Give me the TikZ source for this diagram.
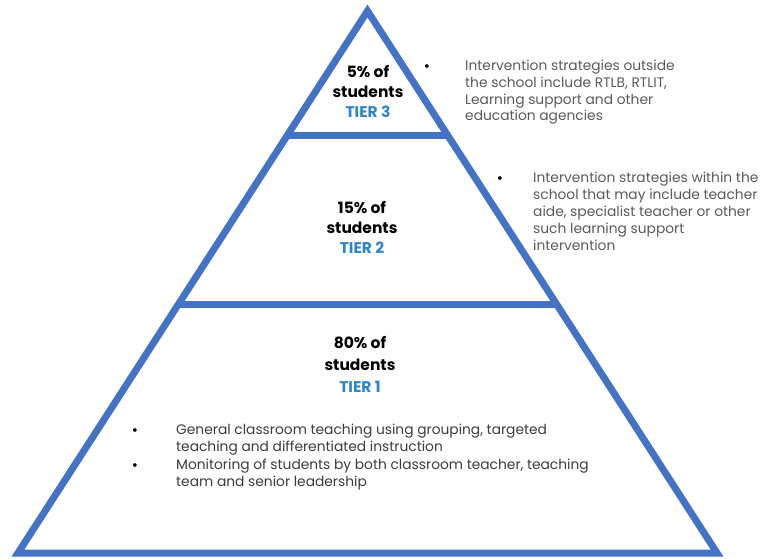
\documentclass[tikz,border=0pt]{standalone}
\usepackage{fontspec}
\setmainfont{Poppins}
\usetikzlibrary{calc}
\definecolor{pyrblue}{HTML}{4472C4}
\definecolor{tierblue}{HTML}{2E86C8}
\definecolor{graytxt}{HTML}{5A5A5A}
\definecolor{darktxt}{HTML}{3C3C3C}
\tikzset{
  edge/.style={draw=pyrblue, line width=7bp, line join=miter},
  divider/.style={draw=pyrblue, line width=7bp},
  tierlabel/.style={align=center, inner sep=0pt, font=\fontsize{15.5bp}{20bp}\selectfont\bfseries},
  bodytext/.style={align=left, anchor=base west, inner sep=0pt, text=graytxt, font=\fontsize{13.8bp}{17bp}\selectfont},
  bullettext/.style={anchor=base, inner sep=0pt, font=\fontsize{15bp}{17bp}\selectfont},
}
\begin{document}
\begin{tikzpicture}[x=1bp, y=-1bp]
\useasboundingbox (0,0) rectangle (778,559);
\coordinate (A) at (367.5,11);
\coordinate (L) at (18,553);
\coordinate (R) at (717,553);
\draw[edge] (A) -- (L) -- (R) -- cycle;
\coordinate (d3l) at ($(A)!0.2306!(L)$);
\coordinate (d3r) at ($(A)!0.2306!(R)$);
\coordinate (d2l) at ($(A)!0.5424!(L)$);
\coordinate (d2r) at ($(A)!0.5424!(R)$);
\draw[divider] (d3l) -- (d3r);
\draw[divider] (d2l) -- (d2r);

\node[tierlabel] (tier3) at (368,91) {5\% of\\students\\{\color{tierblue}TIER 3}};
\node[tierlabel] (tier2) at (362,227) {15\% of\\students\\{\color{tierblue}TIER 2}};
\node[tierlabel, font=\fontsize{15.5bp}{22bp}\selectfont\bfseries] (tier1) at (360,364) {80\% of\\students\\{\color{tierblue}TIER 1}};

\node[bullettext] (b3) at (427,72) {•};
\node[bodytext, font=\fontsize{13.8bp}{16.7bp}\selectfont] (p3) at (465,121) {Intervention strategies outside\\the school include RTLB, RTLIT,\\Learning support and other\\education agencies};

\node[bullettext] (b2) at (500,184) {•};
\node[bodytext] (p2) at (533,251) {Intervention strategies within the\\school that may include teacher\\aide, specialist teacher or other\\such learning support\\intervention};

\node[bullettext] (b1a) at (135,435) {•};
\node[bodytext, text=darktxt] (p1a) at (176,451) {General classroom teaching using grouping, targeted\\teaching and differentiated instruction};
\node[bullettext] (b1b) at (135,470) {•};
\node[bodytext, text=darktxt] (p1b) at (176,486) {Monitoring of students by both classroom teacher, teaching\\team and senior leadership};
\end{tikzpicture}
\end{document}
